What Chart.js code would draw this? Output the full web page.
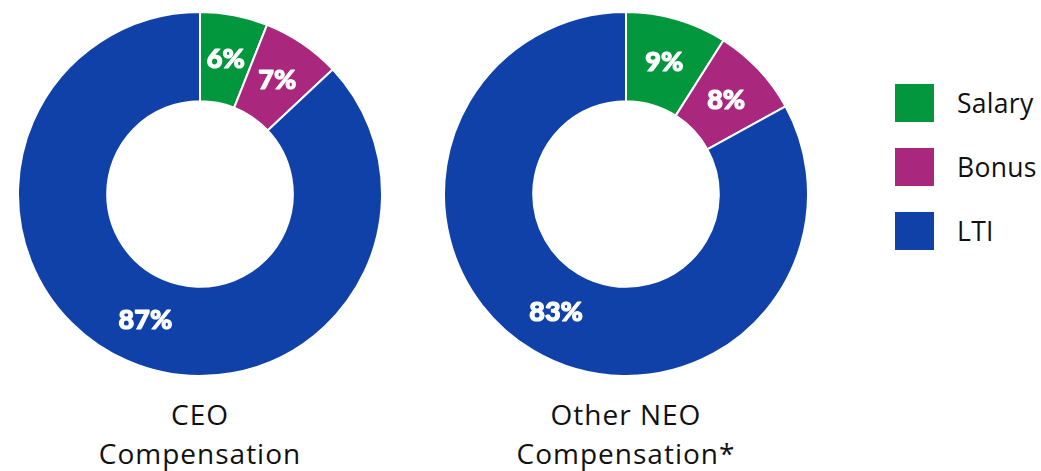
<!DOCTYPE html>
<html>
<head>
<meta charset="utf-8">
<script src="https://cdn.jsdelivr.net/npm/chart.js@4.4.1/dist/chart.umd.min.js"></script>
<style>
  body { margin: 0; background: #fff; width: 1041px; height: 471px; overflow: hidden; position: relative; font-family: "Open Sans", sans-serif; }
  .pie { position: absolute; top: 11px; width: 366px; height: 366px; }
  .title { position: absolute; top: 395px; width: 366px; text-align: center; font-size: 28px; line-height: 39px; color: #111; letter-spacing: 1px; }
  #legend { position: absolute; left: 895px; top: 84px; }
  .item { display: flex; align-items: center; height: 38px; margin-bottom: 26px; font-size: 26.5px; color: #111; letter-spacing: 0.3px; }
  .box { width: 39px; height: 38px; margin-right: 23px; }
</style>
</head>
<body>
<div class="pie" style="left:17px"><canvas id="ceoChart"></canvas></div>
<div class="pie" style="left:443px"><canvas id="neoChart"></canvas></div>
<div class="title" style="left:17px" id="ceoTitle"></div>
<div class="title" style="left:443px" id="neoTitle"></div>
<div id="legend"></div>
<script>
const categories = ["Salary", "Bonus", "LTI"];
const ceoValues = [6, 7, 87];
const neoValues = [9, 8, 83];
const ceoTitle = ["CEO", "Compensation"];
const neoTitle = ["Other NEO", "Compensation*"];
const colors = ["#02963D", "#A9287E", "#0F41A8"];

// white percent labels in the middle of each slice
const sliceLabels = {
  id: "sliceLabels",
  afterDatasetsDraw(chart) {
    const ctx = chart.ctx;
    const meta = chart.getDatasetMeta(0);
    ctx.save();
    ctx.fillStyle = "#fff";
    ctx.strokeStyle = "#fff";
    ctx.lineWidth = 1.2;
    ctx.lineJoin = "round";
    ctx.font = "900 27px Lato";
    ctx.textAlign = "center";
    ctx.textBaseline = "middle";
    meta.data.forEach((arc, i) => {
      const pos = arc.tooltipPosition();
      const txt = chart.data.datasets[0].data[i] + "%";
      ctx.strokeText(txt, pos.x, pos.y);
      ctx.fillText(txt, pos.x, pos.y);
    });
    ctx.restore();
  }
};

const makeChart = (id, values) => {
  new Chart(document.getElementById(id), {
    type: "doughnut",
    data: {
      labels: categories,
      datasets: [{
        data: values,
        backgroundColor: colors,
        borderColor: "#fff",
        borderWidth: 2
      }]
    },
    options: {
      responsive: true,
      maintainAspectRatio: false,
      animation: false,
      cutout: "51%",
      plugins: {
        legend: { display: false },
        tooltip: { enabled: false }
      }
    },
    plugins: [sliceLabels]
  });
};

makeChart("ceoChart", ceoValues);
makeChart("neoChart", neoValues);

document.getElementById("ceoTitle").innerHTML = ceoTitle.join("<br>");
document.getElementById("neoTitle").innerHTML = neoTitle.join("<br>");

const legend = document.getElementById("legend");
categories.forEach((name, i) => {
  const row = document.createElement("div");
  row.className = "item";
  row.innerHTML = '<div class="box" style="background:' + colors[i] + '"></div>' + name;
  legend.appendChild(row);
});
</script>
</body>
</html>
